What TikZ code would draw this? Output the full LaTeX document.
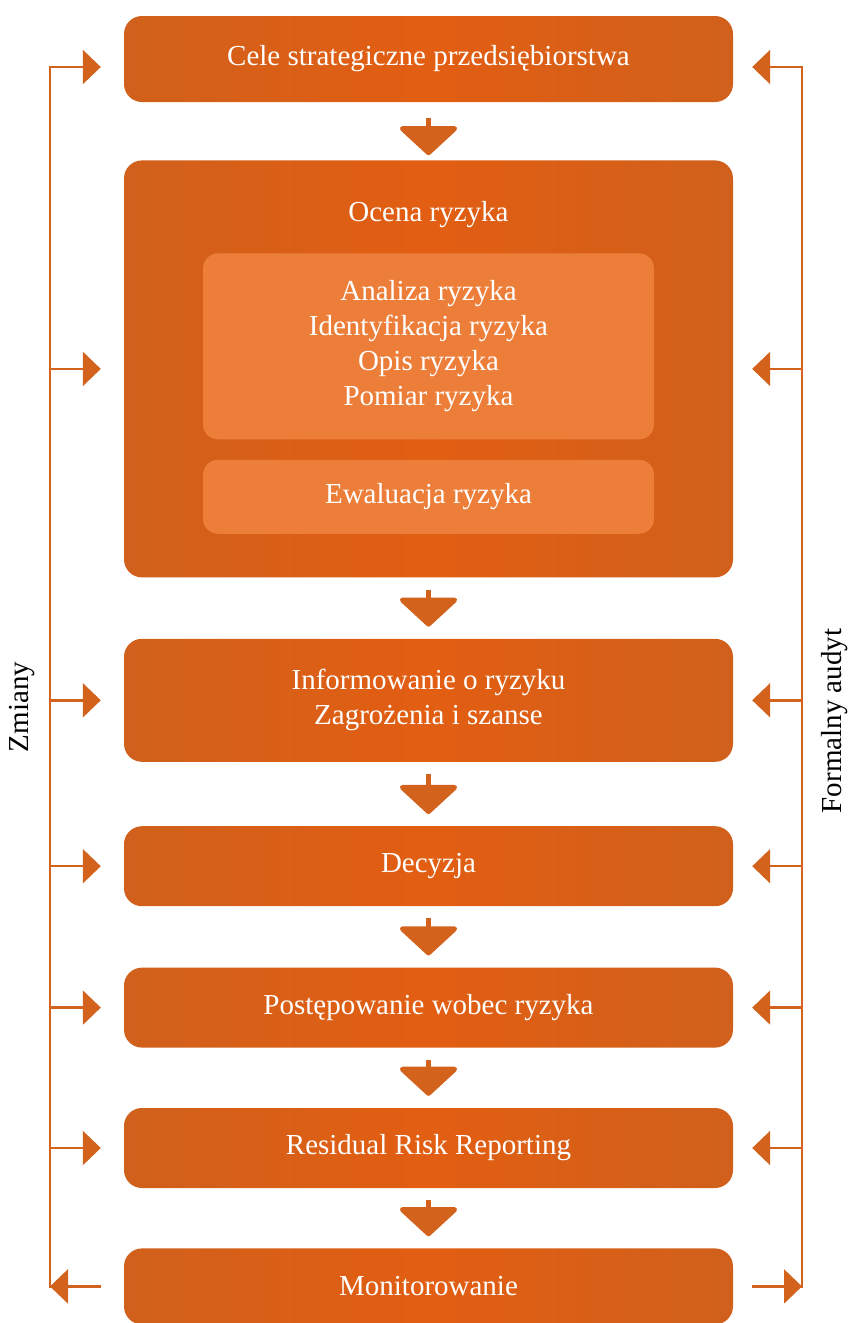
\documentclass[tikz,border=0pt]{standalone}
\usepackage{fontspec}
\setmainfont{Liberation Serif}
\usetikzlibrary{positioning,arrows.meta}

\definecolor{edgeorange}{HTML}{D0601C}
\definecolor{midorange}{HTML}{E25E12}
\definecolor{lightorange}{HTML}{EC7E3A}
\definecolor{linkorange}{HTML}{D2621C}

\begin{document}
\begin{tikzpicture}[x=1pt,y=-1pt,node distance=60pt,
    box/.style={rectangle, rounded corners=18pt, minimum width=609pt, minimum height=80pt,
      left color=edgeorange, right color=edgeorange, middle color=midorange,
      text=white, align=center, font=\fontsize{29pt}{35pt}\selectfont},
    innerbox/.style={rectangle, rounded corners=15pt, minimum width=451pt, fill=lightorange,
      text=white, align=center, font=\fontsize{29pt}{35pt}\selectfont},
    flow/.style={draw=linkorange, line width=5pt, -{Triangle[length=30pt,width=64pt,round]},
      shorten <=12pt, shorten >=12pt},
    side/.style={draw=linkorange, line width=2.5pt, -{Triangle[length=18pt,width=34pt]}},
    spine/.style={draw=linkorange, line width=2.5pt, line cap=rect},
    sidelabel/.style={inner sep=0pt, font=\fontsize{29pt}{35pt}\selectfont}]
    \useasboundingbox (0,0) rectangle (847,1323);

    % main column
    \node[box, minimum height=86pt] (cele) at (428.5,59) {Cele strategiczne przedsiębiorstwa};
    \node[box, minimum height=417pt, below=58pt of cele] (ocena) {};
    \node[box, minimum height=123pt, below=61pt of ocena] (info) {Informowanie o ryzyku\\Zagrożenia i szanse};
    \node[box, below=64pt of info] (dec) {Decyzja};
    \node[box, below=61pt of dec] (post) {Postępowanie wobec ryzyka};
    \node[box, below=of post] (resid) {Residual Risk Reporting};
    \node[box, minimum height=76pt, below=of resid] (mon) {Monitorowanie};

    % inside the assessment box
    \node[text=white, font=\fontsize{29pt}{35pt}\selectfont, yshift=-54pt] (ocenat) at (ocena.north) {Ocena ryzyka};
    \node[innerbox, minimum height=186pt, below=93pt of ocena.north] (anal)
      {Analiza ryzyka\\Identyfikacja ryzyka\\Opis ryzyka\\Pomiar ryzyka};
    \node[innerbox, minimum height=74pt, below=20pt of anal] (ewal) {Ewaluacja ryzyka};

    % flow arrows
    \draw[flow, shorten <=16pt, shorten >=5pt] (cele) -- (ocena);
    \draw[flow] (ocena) -- (info);
    \draw[flow] (info) -- (dec);
    \draw[flow] (dec) -- (post);
    \draw[flow] (post) -- (resid);
    \draw[flow] (resid) -- (mon);

    % side loops
    \coordinate (zl) at (50,0);
    \coordinate (zr) at (802,0);
    \coordinate (celein) at ([yshift=-8pt]cele.center);
    \draw[spine] (celein -| zl) -- (mon -| zl);
    \draw[spine] (celein -| zr) -- (mon -| zr);
    \draw[side, shorten >=23pt] (celein -| zl) -- (celein -| cele.west);
    \draw[side, shorten >=19pt] (celein -| zr) -- (celein -| cele.east);
    \foreach \b in {ocena,info,dec,post,resid} {
      \draw[side, shorten >=23pt] (\b -| zl) -- (\b.west);
      \draw[side, shorten >=19pt] (\b -| zr) -- (\b.east);
    }
    \draw[side, shorten <=23pt] (mon.west) -- (mon -| zl);
    \draw[side, shorten <=19pt] (mon.east) -- (mon -| zr);

    \node[sidelabel, rotate=90] (zmiany) at (22,707) {Zmiany};
    \node[sidelabel, rotate=90] (audyt) at (835,721) {Formalny audyt};
\end{tikzpicture}
\end{document}
